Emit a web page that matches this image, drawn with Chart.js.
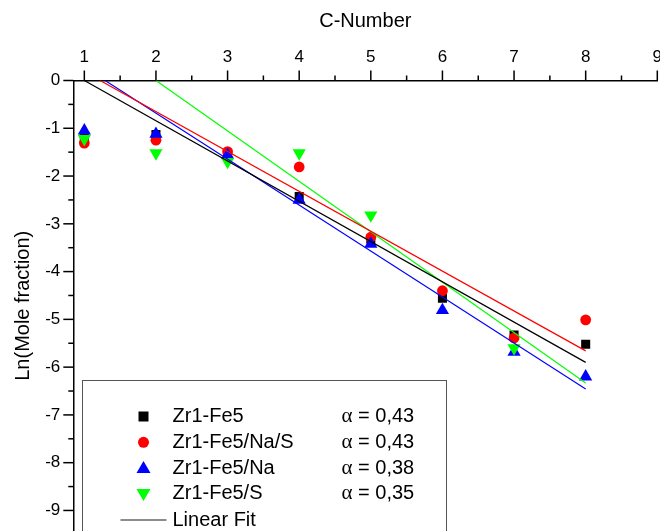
<!DOCTYPE html>
<html><head><meta charset="utf-8">
<script src="https://cdn.jsdelivr.net/npm/chart.js@4/dist/chart.umd.min.js"></script>
<style>html,body{margin:0;padding:0;background:#fff;}canvas{display:block;}</style>
</head><body>
<canvas id="c" width="660" height="531"></canvas>
<script>
// ---- data ----
const cNumbers   = [1, 2, 3, 4, 5, 6, 7, 8];
const zrFe5      = [-1.20, -1.13, -1.55, -2.43, -3.32, -4.56, -5.33, -5.52];
const zrFe5NaS   = [-1.31, -1.25, -1.49, -1.81, -3.28, -4.40, -5.39, -5.01];
const zrFe5Na    = [-1.05, -1.12, -1.56, -2.50, -3.42, -4.81, -5.68, -6.20];
const zrFe5S     = [-1.22, -1.52, -1.70, -1.52, -2.82, null, -5.60, null];
// linear fit end points [x, y]
const fitZrFe5    = [[1.00, 0], [8, -5.90]];
const fitZrFe5NaS = [[1.22, 0], [8, -5.66]];
const fitZrFe5Na  = [[1.29, 0], [8, -6.46]];
const fitZrFe5S   = [[2.00, 0], [8, -6.33]];
const xTicks = [1, 2, 3, 4, 5, 6, 7, 8, 9];
const yTicks = [0, -1, -2, -3, -4, -5, -6, -7, -8, -9];
const seriesNames = ['Zr1-Fe5', 'Zr1-Fe5/Na/S', 'Zr1-Fe5/Na', 'Zr1-Fe5/S'];
const alphaValues = ['0,43', '0,43', '0,38', '0,35'];
const fitLabel = 'Linear Fit';
const xTitle = 'C-Number';
const yTitle = 'Ln(Mole fraction)';

const colors = ['#000000', '#ff0000', '#0000ff', '#00ff00'];
const FONT = "'Liberation Sans', Arial, sans-serif";

const pts = arr => cNumbers.map((c, i) => ({x: c, y: arr[i]})).filter(p => p.y !== null);
const seg = arr => arr.map(p => ({x: p[0], y: p[1]}));

const pointSets = [zrFe5, zrFe5NaS, zrFe5Na, zrFe5S];
const pStyles = [
  {pointStyle: 'rect', pointRadius: 6.4, rotation: 0, order: 4},
  {pointStyle: 'circle', pointRadius: 5.4, rotation: 0, order: 3},
  {pointStyle: 'triangle', pointRadius: 7.6, rotation: 0, order: 2},
  {pointStyle: 'triangle', pointRadius: 7.6, rotation: 180, order: 1}
];
const datasets = pointSets.map((arr, i) => ({
  type: 'scatter', label: seriesNames[i], data: pts(arr),
  backgroundColor: colors[i], borderColor: colors[i], borderWidth: 0,
  pointStyle: pStyles[i].pointStyle, pointRadius: pStyles[i].pointRadius,
  pointRotation: pStyles[i].rotation, order: pStyles[i].order, showLine: false
}));
[fitZrFe5, fitZrFe5NaS, fitZrFe5Na, fitZrFe5S].forEach((f, i) => {
  datasets.push({type: 'line', label: fitLabel, data: seg(f), borderColor: colors[i],
    borderWidth: 1.2, pointRadius: 0, fill: false, order: 0, tension: 0});
});

function drawMarker(ctx, kind, x, y, color) {
  ctx.fillStyle = color;
  ctx.beginPath();
  if (kind === 0) { ctx.rect(x - 5, y - 5, 10, 10); }
  else if (kind === 1) { ctx.arc(x, y, 5.5, 0, Math.PI * 2); }
  else if (kind === 2) { ctx.moveTo(x, y - 7); ctx.lineTo(x + 7, y + 5); ctx.lineTo(x - 7, y + 5); ctx.closePath(); }
  else { ctx.moveTo(x, y + 7); ctx.lineTo(x + 7, y - 5); ctx.lineTo(x - 7, y - 5); ctx.closePath(); }
  ctx.fill();
}

const deco = {
  id: 'deco',
  afterDraw(chart) {
    const {ctx, scales: {x, y}, chartArea: ca} = chart;
    ctx.save();
    ctx.strokeStyle = '#000';
    ctx.lineWidth = 1.5;
    // x ticks (outward, up)
    xTicks.forEach((v, i) => {
      const px = x.getPixelForValue(v);
      ctx.beginPath(); ctx.moveTo(px, ca.top); ctx.lineTo(px, ca.top - 10); ctx.stroke();
      if (i < xTicks.length - 1) {
        const pm = x.getPixelForValue((v + xTicks[i + 1]) / 2);
        ctx.beginPath(); ctx.moveTo(pm, ca.top); ctx.lineTo(pm, ca.top - 5); ctx.stroke();
      }
    });
    // y ticks (outward, left)
    yTicks.forEach((v, i) => {
      const py = y.getPixelForValue(v);
      ctx.beginPath(); ctx.moveTo(ca.left, py); ctx.lineTo(ca.left - 10, py); ctx.stroke();
      const nxt = i < yTicks.length - 1 ? yTicks[i + 1] : v - 1;
      const pm = y.getPixelForValue((v + nxt) / 2);
      if (pm <= ca.bottom + 1) {
        ctx.beginPath(); ctx.moveTo(ca.left, pm); ctx.lineTo(ca.left - 5, pm); ctx.stroke();
      }
    });
    // legend box
    const bx = 82, by = 380, bw = 364, bh = 170;
    ctx.fillStyle = '#fff';
    ctx.fillRect(bx, by, bw, bh);
    ctx.strokeStyle = '#555';
    ctx.lineWidth = 1;
    ctx.strokeRect(bx + 0.5, by + 0.5, bw, bh);
    const rowY = [416.5, 442.3, 468.1, 493.9];
    ctx.textBaseline = 'middle';
    ctx.textAlign = 'left';
    seriesNames.forEach((n, i) => {
      drawMarker(ctx, i, 143.5, rowY[i], colors[i]);
      ctx.fillStyle = '#000';
      ctx.font = '20px ' + FONT;
      ctx.fillText(n, 172.5, rowY[i]);
      ctx.font = '21px "Liberation Serif", serif';
      ctx.fillText('\u03b1', 341.5, rowY[i]);
      const aw = ctx.measureText('\u03b1').width;
      ctx.font = '20px ' + FONT;
      ctx.fillText(' = ' + alphaValues[i], 341.5 + aw, rowY[i]);
    });
    ctx.strokeStyle = '#666';
    ctx.lineWidth = 1.5;
    ctx.beginPath(); ctx.moveTo(120.5, 520); ctx.lineTo(166.5, 520); ctx.stroke();
    ctx.fillStyle = '#000';
    ctx.font = '20px ' + FONT;
    ctx.fillText(fitLabel, 172.5, 520);
    ctx.restore();
  }
};

Chart.defaults.font.family = FONT;
Chart.defaults.color = '#000';

new Chart(document.getElementById('c'), {
  data: {datasets},
  options: {
    responsive: false, animation: false, devicePixelRatio: 1,
    layout: {autoPadding: false, padding: {left: 0, right: 2.7, top: 0, bottom: 0}},
    plugins: {legend: {display: false}, tooltip: {enabled: false}},
    scales: {
      x: {
        type: 'linear', position: 'top', min: 0.846, max: 9,
        afterFit: s => { s.height = 80.5; s.paddingLeft = 0; s.paddingRight = 0; },
        afterBuildTicks: s => { s.ticks = xTicks.map(v => ({value: v})); },
        grid: {drawOnChartArea: false, drawTicks: false},
        border: {display: true, color: '#000', width: 1.5},
        ticks: {font: {size: 17}, padding: 13, maxRotation: 0, autoSkip: false, callback: v => String(v)},
        title: {display: true, text: xTitle, font: {size: 20}, padding: {top: 9, bottom: 0}}
      },
      y: {
        type: 'linear', position: 'left', min: -9.43, max: 0,
        afterFit: s => { s.width = 73.3; s.paddingTop = 0; s.paddingBottom = 0; },
        afterBuildTicks: s => { s.ticks = yTicks.map(v => ({value: v})); },
        grid: {drawOnChartArea: false, drawTicks: false},
        border: {display: true, color: '#000', width: 1.5},
        ticks: {font: {size: 17}, padding: 13, autoSkip: false, callback: v => String(v)},
        title: {display: true, text: yTitle, font: {size: 20}, padding: {top: 11.5, bottom: 0}}
      }
    }
  },
  plugins: [deco]
});
</script>
</body></html>
